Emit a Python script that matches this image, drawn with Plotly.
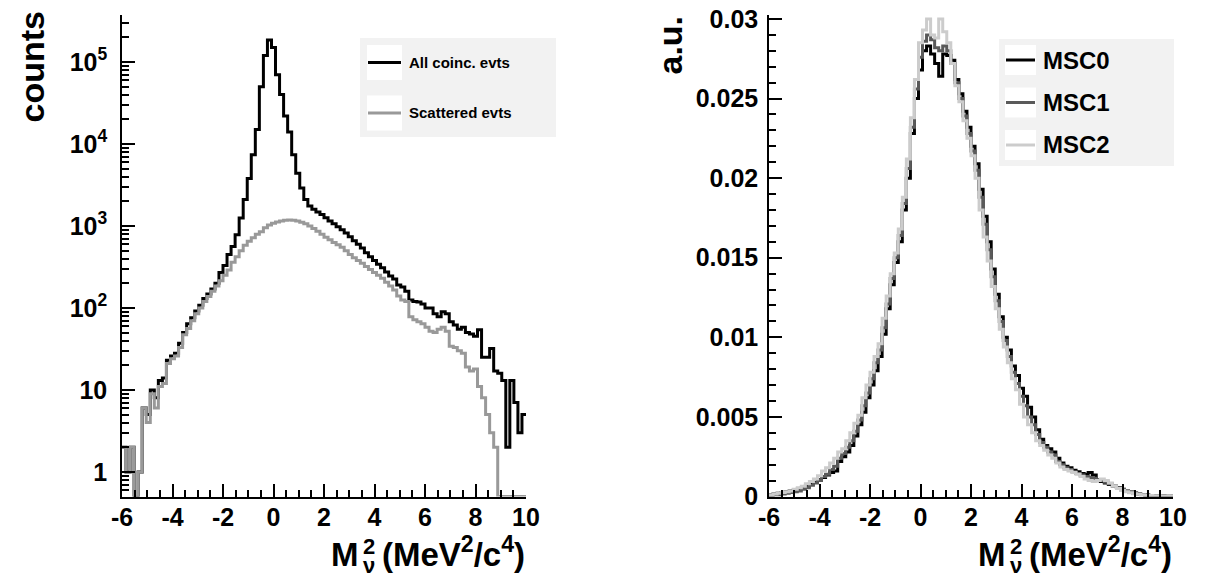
import numpy as np
import plotly.graph_objects as go

# ---------------- data ----------------
BIN_LO, BIN_W, NBINS = -6.0, 0.16, 100

# Left panel: counts per bin (log scale)
all_coinc = [2, 1, 2, 0, 1, 6, 5, 10, 8, 13,
             14, 23, 26, 28, 37, 50, 64, 76, 92, 108,
             130, 148, 170, 200, 270, 330, 450, 560, 780, 1250,
             2100, 3800, 7400, 15000, 50000, 120000, 185000, 150000, 70000, 40000,
             22000, 14000, 7400, 4400, 2900, 2100, 1750, 1600, 1480, 1380,
             1260, 1150, 1060, 980, 900, 820, 740, 660, 600, 540,
             470, 420, 380, 340, 310, 275, 245, 225, 190, 180,
             160, 125, 120, 118, 112, 100, 100, 85, 78, 90,
             85, 68, 62, 55, 58, 50, 48, 45, 54, 25,
             25, 32, 17, 16, 13, 2, 13, 7, 3, 5]
scattered = [2, 1, 2, 0, 1, 6, 4, 9, 6, 11,
             12, 21, 24, 26, 33, 47, 56, 70, 85, 100,
             120, 138, 160, 185, 215, 250, 290, 360, 420, 500,
             580, 650, 720, 790, 850, 950, 1030, 1080, 1120, 1150,
             1170, 1180, 1170, 1150, 1110, 1060, 1000, 930, 860, 790,
             730, 680, 630, 590, 550, 500, 450, 410, 380, 350,
             320, 295, 270, 250, 230, 205, 185, 165, 140, 125,
             120, 78, 72, 68, 64, 58, 52, 50, 55, 58,
             52, 34, 33, 30, 28, 19, 17, 18, 11, 8,
             5, 3, 2, 0, 0, 0, 0, 0, 0, 0]

# Right panel: normalised distributions (units of 1e-4)
msc0 = [1, 1.5, 2, 2.5, 3, 3.5, 4, 4.5, 5.5, 6.5,
        8, 9, 10.5, 12, 13.5, 15, 16, 22, 25, 28,
        32, 38, 45, 53, 62, 70, 79, 88, 102, 118,
        133, 147, 160, 180, 200, 228, 250, 268, 280, 283,
        278, 272, 264, 278, 277, 274, 262, 253, 242, 232,
        220, 209, 193, 176, 160, 143, 127, 113, 100, 92,
        82, 76, 68, 63, 56, 50, 42, 36, 32, 30,
        28, 24, 21, 19, 18, 16.5, 15.5, 14.5, 14, 15,
        13.5, 10.5, 9.5, 8.5, 7.5, 6.5, 5.5, 4.5, 3.5, 2.8,
        2.2, 1.6, 1.2, 0.9, 0.7, 0.5, 0.4, 0.3, 0.2, 0.2]
msc1 = [0.5, 1, 1, 1.5, 2, 2.5, 3, 3.5, 4.5, 5.5,
        7, 8.5, 10, 12.5, 14, 17, 19, 24, 27, 31,
        35, 41, 48, 57, 65, 74, 84, 92, 106, 121,
        137, 150, 164, 184, 206, 232, 256, 276, 286, 290,
        287, 282, 280, 283, 280, 272, 260, 250, 239, 228,
        217, 205, 188, 171, 155, 138, 123, 110, 98, 88,
        78, 71, 63, 57, 50, 45, 39, 34, 31, 28,
        26, 22, 20, 18, 17, 15.5, 14.5, 13.5, 12.5, 12,
        11.5, 10.5, 10, 9, 8, 6.5, 5.5, 4.2, 3.2, 2.6,
        2, 1.5, 1.1, 0.8, 0.6, 0.5, 0.4, 0.3, 0.2, 0.2]
msc2 = [1, 1.5, 2, 2.5, 3, 3.5, 4.5, 5.5, 6.5, 8,
        9.5, 11, 13, 16, 18, 21, 24, 28, 30, 35,
        40, 46, 51, 62, 70, 78, 88, 96, 112, 126,
        140, 153, 168, 188, 212, 238, 262, 285, 293, 300,
        290, 288, 300, 292, 285, 272, 258, 248, 236, 225,
        214, 200, 180, 163, 148, 132, 118, 105, 94, 84,
        74, 67, 58, 50, 45, 40, 35, 32, 29, 26,
        24, 21, 18.5, 17, 16, 15, 14, 12.5, 11, 10,
        9.5, 10, 11, 10, 8.5, 6.5, 5, 4, 3, 2.4,
        1.8, 1.4, 1.1, 0.8, 0.6, 0.5, 0.4, 0.3, 0.3, 0.2]

left_legend = ["All coinc. evts", "Scattered evts"]
right_legend = ["MSC0", "MSC1", "MSC2"]
x_tickvals = [-6, -4, -2, 0, 2, 4, 6, 8, 10]
x_ticktext = ["-6", "-4", "-2", "0", "2", "4", "6", "8", "10"]
ly_tickvals = [1, 10, 100, 1000, 10000, 100000]
ly_ticktext = ["1", "10", "10<sup>2</sup>", "10<sup>3</sup>", "10<sup>4</sup>", "10<sup>5</sup>"]
ry_tickvals = [0, 0.005, 0.01, 0.015, 0.02, 0.025, 0.03]
ry_ticktext = ["0", "0.005", "0.01", "0.015", "0.02", "0.025", "0.03"]

# ---------------- helpers ----------------
# the page body has an 8px margin, so the figure is 1200x567 placed at (8, 8)
OFF = 8
W, H = 1200, 567
FONT = "Liberation Sans"
edges = np.round(BIN_LO + BIN_W * np.arange(NBINS + 1), 4)
LOG_MIN = -0.3


def b(t):
    return "<b>" + t + "</b>"


def step(vals, floor=None):
    v = np.asarray(vals, dtype=float)
    if floor is not None:
        v = np.maximum(v, floor)
    return np.append(v, v[-1])


def px(x):
    return (x - OFF) / W


def py(y):
    return 1 - (y - OFF) / H


BLACK = "#000000"
GREY = "#999999"
DARK = "#5a5a5a"
LIGHT = "#cccccc"

fig = go.Figure()

# Left panel
floor = 10 ** LOG_MIN
fig.add_trace(go.Scatter(x=edges, y=step(all_coinc, floor), mode="lines",
                         line=dict(color=BLACK, width=3, shape="hv"),
                         xaxis="x", yaxis="y", showlegend=False, name=left_legend[0]))
fig.add_trace(go.Scatter(x=edges, y=step(scattered, floor), mode="lines",
                         line=dict(color=GREY, width=3, shape="hv"),
                         xaxis="x", yaxis="y", showlegend=False, name=left_legend[1]))

# Right panel
for vals, col, nm in [(msc0, BLACK, right_legend[0]), (msc1, DARK, right_legend[1]),
                      (msc2, LIGHT, right_legend[2])]:
    fig.add_trace(go.Scatter(x=edges, y=step(np.asarray(vals) * 1e-4), mode="lines",
                             line=dict(color=col, width=3, shape="hv"),
                             xaxis="x2", yaxis="y2", showlegend=False, name=nm))

tickfont = dict(family=FONT, size=25, color="black")
ydom = [py(496.5), py(15)]

common_axis = dict(showline=True, linecolor="black", linewidth=1.5, ticks="inside",
                   ticklen=13, tickwidth=1.5, tickcolor="black", showgrid=False,
                   zeroline=False, tickfont=tickfont, mirror=False, automargin=False,
                   ticklabeloverflow="allow")
minor_x = dict(ticks="inside", ticklen=7, tickwidth=1.5, tickcolor="black", dtick=0.5)

fig.update_layout(
    template="none",
    width=W, height=H, margin=dict(l=0, r=0, t=0, b=0, autoexpand=False),
    paper_bgcolor="white", plot_bgcolor="rgba(0,0,0,0)",
    xaxis=dict(domain=[px(122), px(526)], range=[-6, 10], anchor="y",
               tickmode="array", tickvals=x_tickvals, ticktext=[b(t) for t in x_ticktext],
               ticklabelstandoff=-2, minor=minor_x, **common_axis),
    yaxis=dict(domain=ydom, type="log", range=[LOG_MIN, 5.573], anchor="x",
               tickmode="array", tickvals=ly_tickvals, ticktext=[b(t) for t in ly_ticktext],
               ticklabelstandoff=8,
               minor=dict(ticks="inside", ticklen=7, tickwidth=1.5, tickcolor="black", dtick="D1"),
               **common_axis),
    xaxis2=dict(domain=[px(769), px(1173)], range=[-6, 10], anchor="y2",
                tickmode="array", tickvals=x_tickvals, ticktext=[b(t) for t in x_ticktext],
                ticklabelstandoff=-2, minor=minor_x, **common_axis),
    yaxis2=dict(domain=ydom, range=[0, 0.03025], anchor="x2",
                tickmode="array", tickvals=ry_tickvals, ticktext=[b(t) for t in ry_ticktext],
                ticklabelstandoff=4,
                minor=dict(ticks="inside", ticklen=7, tickwidth=1.5, tickcolor="black", dtick=0.001),
                **common_axis),
)

shapes = []
annotations = []


def rect(x0, y0, x1, y1, color):
    shapes.append(dict(type="rect", xref="paper", yref="paper", x0=px(x0), x1=px(x1),
                       y0=py(y1), y1=py(y0), fillcolor=color, line=dict(width=0), layer="above"))


def seg(x0, x1, y, color, width=3):
    shapes.append(dict(type="line", xref="paper", yref="paper", x0=px(x0), x1=px(x1),
                       y0=py(y), y1=py(y), line=dict(color=color, width=width), layer="above"))


def text(t, x, y, size, xanchor="left", yanchor="middle", angle=0):
    annotations.append(dict(text=b(t), x=px(x), y=py(y), xref="paper", yref="paper",
                            xanchor=xanchor, yanchor=yanchor, showarrow=False, textangle=angle,
                            font=dict(family=FONT, size=size, color="black")))


# Left legend
rect(360, 38, 556, 137, "#f2f2f2")
for i, (lab, col) in enumerate(zip(left_legend, [BLACK, GREY])):
    yc = 62.5 + 50.5 * i
    rect(367, yc - 17.5, 402, yc + 17.5, "white")
    seg(368, 401, yc, col)
    text(lab, 407, yc, 15)

# Right legend
rect(999, 39, 1174, 166, "#f2f2f2")
for i, (lab, col) in enumerate(zip(right_legend, [BLACK, DARK, LIGHT])):
    yc = 60 + 42.5 * i
    rect(1005, yc - 15, 1036, yc + 15, "white")
    seg(1006, 1035, yc, col)
    text(lab, 1041, yc, 24)

# Axis titles
text("counts", 31, 10, 34, xanchor="center", yanchor="top", angle=-90)
text("a.u.", 669, 14, 34, xanchor="center", yanchor="top", angle=-90)

# x-axis titles: M with stacked superscript 2 and subscript nu
for xend in (527, 1174):
    mx = xend - 166
    text("M", mx, 575, 33, xanchor="right", yanchor="bottom")
    text("2", mx, 561, 22, xanchor="left", yanchor="bottom")
    text("ν", mx, 580, 22, xanchor="left", yanchor="bottom")
    text("(MeV<sup>2</sup>/c<sup>4</sup>)", xend, 575, 33, xanchor="right", yanchor="bottom")

fig.update_layout(shapes=shapes, annotations=annotations)
fig.write_html("out.html")
